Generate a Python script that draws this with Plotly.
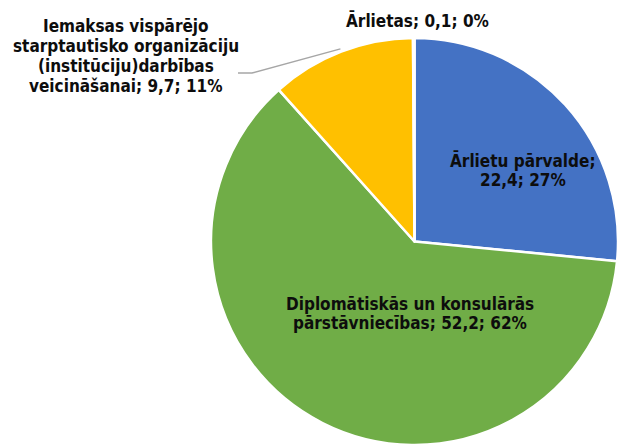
import math
import plotly.graph_objects as go

labels = ["Ārlietu pārvalde", "Diplomātiskās un konsulārās pārstāvniecības",
          "Iemaksas vispārējo starptautisko organizāciju (institūciju)darbības veicināšanai",
          "Ārlietas"]
values = [22.4, 52.2, 9.7, 0.1]
value_text = ["22,4", "52,2", "9,7", "0,1"]
pct_text = ["27%", "62%", "11%", "0%"]
colors = ["#4472C4", "#70AD47", "#FFC000", "#A5A5A5"]

# label lines as they are broken in the chart
label_lines = [
    ["Ārlietu pārvalde;", "%s; %s" % (value_text[0], pct_text[0])],
    ["Diplomātiskās un konsulārās", "pārstāvniecības; %s; %s" % (value_text[1], pct_text[1])],
    ["Iemaksas vispārējo", "starptautisko organizāciju", "(institūciju)darbības",
     "veicināšanai; %s; %s" % (value_text[2], pct_text[2])],
    ["Ārlietas; %s; %s" % (value_text[3], pct_text[3])],
]

W, H = 618, 445
cx, cy, r = 415, 242, 204  # pixel geometry of pie (top-left origin)

dom_x = [max(0, (cx - r) / W), min(1, (cx + r) / W)]
dom_y = [max(0, (H - cy - r) / H), min(1, (H - cy + r) / H)]

fig = go.Figure(go.Pie(
    labels=labels, values=values, sort=False, direction="clockwise", rotation=0,
    marker=dict(colors=colors, line=dict(color="white", width=2.5)),
    textinfo="none", hoverinfo="label+value+percent",
    domain=dict(x=dom_x, y=dom_y),
))

FONT = dict(family="DejaVu Sans Condensed", size=17, color="#0D0D0D")

def px(x, y):
    return x / W, 1 - y / H

# (center x, first line center y, line spacing)
label_pos = [(523, 160, 20), (410, 304, 18.5), (126, 26, 20), (417, 20, 20)]

for lines, (x, y0, dy) in zip(label_lines, label_pos):
    for i, line in enumerate(lines):
        ax, ay = px(x, y0 + i * dy)
        fig.add_annotation(x=ax, y=ay, xref="paper", yref="paper",
                           text="<b>%s</b>" % line, showarrow=False, font=FONT,
                           xanchor="center", yanchor="middle")

# leader line for the yellow slice
total = sum(values)
start = sum(values[:2]) / total * 360
mid = start + values[2] / total * 360 / 2
ex = cx + (r + 3) * math.sin(math.radians(mid))
ey = cy - (r + 3) * math.cos(math.radians(mid))
p0 = px(238, 73)
p1 = px(252, 73)
p2 = px(ex, ey)
fig.add_shape(type="path", xref="paper", yref="paper",
              path="M %f %f L %f %f L %f %f" % (p0[0], p0[1], p1[0], p1[1], p2[0], p2[1]),
              line=dict(color="#A6A6A6", width=1.5))

fig.update_layout(width=W, height=H, margin=dict(l=0, r=0, t=0, b=0),
                  showlegend=False, paper_bgcolor="white", plot_bgcolor="white")
fig.write_html("out.html", config={"displayModeBar": False},
               post_script="document.body.style.margin='0';")
